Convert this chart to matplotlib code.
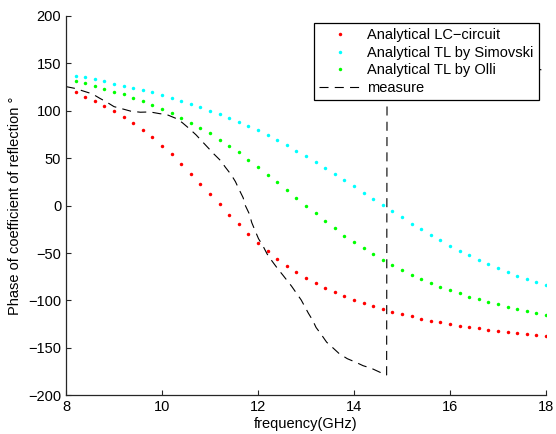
import matplotlib
matplotlib.use("Agg")
import matplotlib.pyplot as plt

plt.rcParams['font.family'] = ['Liberation Sans', 'DejaVu Sans']
plt.rcParams['lines.scale_dashes'] = False

# frequency points of the analytical curves (GHz)
freq = [8.2, 8.4, 8.6, 8.8, 9.0, 9.2, 9.4, 9.6, 9.8, 10.0,
        10.2, 10.4, 10.6, 10.8, 11.0, 11.2, 11.4, 11.6, 11.8, 12.0,
        12.2, 12.4, 12.6, 12.8, 13.0, 13.2, 13.4, 13.6, 13.8, 14.0,
        14.2, 14.4, 14.6, 14.8, 15.0, 15.2, 15.4, 15.6, 15.8, 16.0,
        16.2, 16.4, 16.6, 16.8, 17.0, 17.2, 17.4, 17.6, 17.8, 18.0]

lc_circuit = [119.6, 115.0, 110.4, 105.5, 99.9, 93.9, 87.6, 79.9, 72.2, 63.3,
              54.2, 44.3, 33.8, 23.2, 12.3, 1.4, -9.5, -19.7, -29.9, -39.0,
              -47.8, -55.9, -63.3, -69.9, -75.9, -81.5, -86.5, -91.4, -95.6, -99.5,
              -103.0, -106.1, -109.3, -111.8, -114.6, -116.7, -119.2, -121.3, -123.0, -124.8,
              -126.6, -128.0, -129.3, -130.8, -132.2, -133.5, -134.6, -135.7, -136.7, -137.8]

tl_simovski = [136.8, 135.4, 133.3, 131.2, 128.7, 126.6, 124.5, 122.0, 119.6, 116.5,
               113.6, 110.4, 107.3, 103.8, 100.2, 96.4, 92.2, 88.3, 84.1, 79.5,
               74.6, 69.0, 63.7, 58.0, 52.4, 46.4, 40.1, 33.8, 26.8, 20.5,
               13.7, 7.1, 0.7, -5.9, -12.2, -19.0, -24.9, -30.9, -36.5, -42.2,
               -47.5, -52.3, -57.0, -61.8, -65.7, -69.9, -73.8, -77.0, -80.5, -84.0]

tl_olli = [131.5, 129.1, 126.6, 123.4, 120.3, 117.5, 113.9, 110.1, 106.2, 102.0,
           97.5, 92.8, 87.6, 82.0, 76.4, 69.6, 63.0, 56.3, 48.5, 40.8,
           32.7, 25.0, 16.6, 8.4, 0.0, -8.0, -16.5, -23.8, -31.6, -38.6,
           -45.0, -51.3, -57.3, -62.9, -68.1, -72.8, -77.3, -81.5, -85.4, -89.2,
           -92.4, -96.0, -98.7, -101.6, -104.0, -106.5, -109.0, -111.4, -113.2, -115.0]

# measured phase (wraps from -180 to +180 near 14.7 GHz)
meas_freq = [8.0, 8.2, 8.35, 8.55, 8.7, 8.85, 9.0, 9.2, 9.35, 9.55,
             9.75, 9.95, 10.1, 10.3, 10.42, 10.56, 10.71, 10.82, 10.97, 11.08,
             11.22, 11.32, 11.44, 11.53, 11.61, 11.69, 11.74, 11.82, 11.87, 11.94,
             12.01, 12.1, 12.19, 12.29, 12.41, 12.52, 12.7, 12.9, 13.05, 13.14,
             13.21, 13.32, 13.43, 13.57, 13.69, 13.86, 14.03, 14.19, 14.36, 14.54,
             14.62, 14.68, 14.69, 15.0, 16.0, 17.0, 18.0]
meas_phase = [125.5, 123.5, 121.0, 117.8, 113.3, 109.1, 104.4, 101.7, 99.6, 98.5,
              98.8, 97.0, 96.0, 91.8, 87.6, 81.6, 74.6, 68.6, 60.5, 54.5,
              47.5, 40.5, 32.7, 25.3, 16.6, 8.4, -0.3, -8.8, -17.9, -26.4,
              -34.8, -42.2, -51.0, -58.3, -66.5, -73.4, -85.0, -99.5, -113.5, -121.0,
              -128.5, -136.0, -144.0, -150.4, -156.0, -161.4, -165.0, -168.8, -171.5, -175.7,
              -177.5, -178.6, 179.5, 177.0, 166.0, 154.0, 142.0]

fig = plt.figure(figsize=(5.56, 4.34), dpi=100)
ax = fig.add_axes([0.1187, 0.0892, 0.8633, 0.874])

ax.plot(freq, lc_circuit, 'o', color='red', ms=2.5, mew=0, label='Analytical LC\u2212circuit')
ax.plot(freq, tl_simovski, 'o', color='cyan', ms=2.5, mew=0, label='Analytical TL by Simovski')
ax.plot(freq, tl_olli, 'o', color='#00ff00', ms=2.5, mew=0, label='Analytical TL by Olli')
ax.plot(meas_freq, meas_phase, color='black', lw=0.8, dashes=(6.5, 4.5), label='measure')

ax.set_xlim(8, 18)
ax.set_ylim(-200, 200)
ax.set_xticks([8, 10, 12, 14, 16, 18])
ax.set_yticks([-200, -150, -100, -50, 0, 50, 100, 150, 200])
ax.set_yticklabels(['\u2212200', '\u2212150', '\u2212100', '\u221250', '0', '50', '100', '150', '200'])

for s in ['top', 'right']:
    ax.spines[s].set_visible(False)
for s in ['left', 'bottom']:
    ax.spines[s].set_linewidth(0.9)
    ax.spines[s].set_color('#262626')
ax.tick_params(direction='in', length=3.5, width=0.8, labelsize=10.5, pad=3.5, color='#262626')

ax.set_xlabel('frequency(GHz)', fontsize=10.5, labelpad=2)
ax.set_ylabel('Phase of coefficient of reflection \u00b0', fontsize=10.5, labelpad=4)

leg = ax.legend(loc='upper right', bbox_to_anchor=(0.985, 0.9816), borderaxespad=0,
                fontsize=10.5, numpoints=1, handlelength=3.0, handletextpad=0.34,
                labelspacing=0.25, borderpad=0.35, fancybox=False, framealpha=1)
leg.get_frame().set_edgecolor('black')
leg.get_frame().set_linewidth(0.9)

fig.savefig('out.png', dpi=100)
